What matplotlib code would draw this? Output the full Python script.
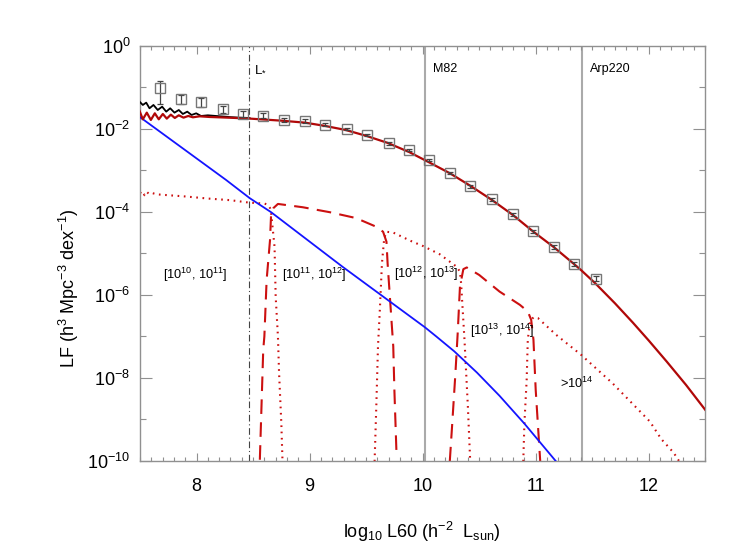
import numpy as np
import matplotlib
matplotlib.use("Agg")
import matplotlib.pyplot as plt
from matplotlib.ticker import FixedLocator, FixedFormatter, NullFormatter

plt.rcParams['font.family'] = ['Liberation Sans', 'DejaVu Sans']
plt.rcParams['mathtext.fontset'] = 'custom'
plt.rcParams['mathtext.rm'] = 'Liberation Sans'
plt.rcParams['mathtext.it'] = 'Liberation Sans:italic'
plt.rcParams['mathtext.bf'] = 'Liberation Sans:bold'

# ---------------- data (log10 values) ----------------
obs_x = [7.68, 7.86, 8.04, 8.23, 8.41, 8.59, 8.77, 8.96, 9.14, 9.33, 9.51, 9.70,
         9.88, 10.06, 10.24, 10.42, 10.61, 10.80, 10.98, 11.16, 11.34, 11.53]
obs_y = [-1.01, -1.29, -1.355, -1.52, -1.64, -1.685, -1.795, -1.81, -1.90, -2.01,
         -2.15, -2.35, -2.51, -2.75, -3.06, -3.39, -3.70, -4.06, -4.47, -4.85, -5.25, -5.61]
obs_elo = [0.39, 0.11, 0.11, 0.10, 0.08, 0.06, 0.05, 0.045, 0.035, 0.03, 0.035, 0.03,
           0.03, 0.03, 0.03, 0.03, 0.03, 0.04, 0.04, 0.05, 0.05, 0.06]
obs_ehi = [0.17, 0.10, 0.09, 0.08, 0.07, 0.055, 0.05, 0.045, 0.035, 0.03, 0.035, 0.03,
           0.03, 0.03, 0.03, 0.03, 0.03, 0.04, 0.04, 0.05, 0.05, 0.06]

total_x = [7.496, 7.525, 7.555, 7.584, 7.619, 7.657, 7.696, 7.732, 7.767, 7.805, 7.843,
           7.879, 7.918, 7.956, 7.997, 8.04, 8.10, 8.30, 8.47]
total_y = [-1.348, -1.427, -1.371, -1.507, -1.427, -1.548, -1.468, -1.588, -1.507, -1.612,
           -1.548, -1.644, -1.588, -1.668, -1.628, -1.692, -1.676, -1.72, -1.745]

model_x = [7.496, 7.525, 7.56, 7.596, 7.631, 7.666, 7.702, 7.737, 7.773, 7.808, 7.843,
           7.885, 7.927, 7.968, 8.027, 8.115, 8.30, 8.47, 8.75, 8.96, 9.14, 9.32, 9.50,
           9.69, 9.88, 10.03, 10.24, 10.42, 10.61, 10.80, 10.98, 11.16, 11.34, 11.40,
           11.53, 11.70, 11.86, 12.00, 12.16, 12.33, 12.50]
model_y = [-1.572, -1.772, -1.612, -1.788, -1.628, -1.772, -1.644, -1.756, -1.66, -1.74,
           -1.676, -1.732, -1.692, -1.724, -1.700, -1.716, -1.735, -1.755, -1.805, -1.853,
           -1.933, -2.03, -2.17, -2.34, -2.56, -2.77, -3.07, -3.37, -3.71, -4.08, -4.48,
           -4.85, -5.26, -5.40, -5.73, -6.20, -6.67, -7.10, -7.61, -8.17, -8.77]

field_x = [7.5, 8.26, 8.47, 8.66, 9.29, 9.65, 9.80, 10.02, 10.12, 10.28, 10.48, 10.68,
           10.90, 11.18]
field_y = [-1.72, -3.23, -3.67, -4.01, -5.32, -6.04, -6.34, -6.78, -7.00, -7.36, -7.87,
           -8.43, -9.10, -10.01]

bin1_x = [7.50, 7.52, 7.54, 7.56, 7.58, 7.61, 7.65, 7.75, 7.90, 8.10, 8.30, 8.47, 8.60,
          8.63, 8.65, 8.66, 8.69, 8.70, 8.72, 8.73, 8.75, 8.76]
bin1_y = [-3.55, -3.50, -3.60, -3.52, -3.57, -3.55, -3.58, -3.60, -3.63, -3.68, -3.72,
          -3.78, -3.80, -3.83, -3.91, -4.03, -4.84, -6.04, -7.00, -7.88, -9.09, -9.97]

bin2_x = [8.56, 8.57, 8.59, 8.60, 8.62, 8.65, 8.66, 8.68, 8.72, 8.94, 9.18, 9.41, 9.59,
          9.65, 9.68, 9.69, 9.72, 9.74, 9.75, 9.77]
bin2_y = [-9.97, -9.09, -7.32, -7.00, -5.64, -4.68, -4.03, -3.91, -3.81, -3.89, -4.01,
          -4.15, -4.36, -4.48, -4.72, -5.24, -6.44, -7.24, -8.29, -9.93]

bin3_x = [9.575, 9.59, 9.605, 9.62, 9.64, 9.66, 9.68, 9.74, 9.91, 10.0, 10.15, 10.30,
          10.33, 10.34, 10.37, 10.40, 10.42]
bin3_y = [-10.01, -8.69, -7.24, -6.44, -5.24, -4.64, -4.48, -4.50, -4.72, -4.82, -5.02,
          -5.32, -5.44, -5.72, -7.08, -8.69, -9.97]

bin4_x = [10.24, 10.26, 10.29, 10.31, 10.33, 10.36, 10.39, 10.50, 10.68, 10.86, 10.93,
          10.96, 10.98, 11.00, 11.04]
bin4_y = [-10.01, -9.17, -7.88, -6.92, -5.80, -5.38, -5.34, -5.52, -5.92, -6.24, -6.40,
          -6.60, -7.08, -8.29, -10.01]

bin5_x = [10.89, 10.90, 10.92, 10.93, 10.95, 10.98, 11.02, 11.18, 11.40, 11.68, 12.01,
          12.11, 12.22, 12.27]
bin5_y = [-10.01, -9.09, -8.05, -7.08, -6.64, -6.54, -6.56, -6.96, -7.44, -8.13, -9.05,
          -9.47, -9.80, -10.01]

bin_labels = [r'[10$^{10}$, 10$^{11}$]', r'[10$^{11}$, 10$^{12}$]', r'[10$^{12}$, 10$^{13}$]',
              r'[10$^{13}$, 10$^{14}$]', r'>10$^{14}$']
bin_label_x = [7.99, 9.04, 10.035, 10.70, 11.36]
bin_label_y = [-5.615, -5.615, -5.59, -6.96, -8.24]

ref_names = ['M82', 'Arp220']
ref_x = [10.02, 11.41]
lstar_x = 8.46

xticks = [8, 9, 10, 11, 12]
yticks_major = [0, -2, -4, -6, -8, -10]
yticks_minor = [-1, -3, -5, -7, -9]

# ---------------- figure ----------------
fig = plt.figure(figsize=(7.47, 5.54), dpi=100)
ax = fig.add_axes([140/747, 1-461/554, 565.3/747, 415.3/554])
ax.set_yscale('log')
ax.set_xlim(7.5, 12.5)
ax.set_ylim(1e-10, 1.0)

red_dark = '#b00808'
red_light = '#cc1010'
p = lambda a: 10**np.asarray(a)

ax.axvline(ref_x[0], color='#aaaaaa', lw=1.5, zorder=1)
ax.axvline(ref_x[1], color='#aaaaaa', lw=1.5, zorder=1)
ax.axvline(lstar_x, color='#444444', lw=0.8, dashes=(6, 2.5, 1, 2.5), zorder=1)

ax.plot(bin1_x, p(bin1_y), color=red_light, lw=1.5, ls=(0, (0.8, 2.2)), zorder=2)
ax.plot(bin2_x, p(bin2_y), color=red_light, lw=1.5, ls=(0, (7, 4)), zorder=2)
ax.plot(bin3_x, p(bin3_y), color=red_light, lw=1.5, ls=(0, (0.8, 2.2)), zorder=2)
ax.plot(bin4_x, p(bin4_y), color=red_light, lw=1.5, ls=(0, (7, 4)), zorder=2)
ax.plot(bin5_x, p(bin5_y), color=red_light, lw=1.5, ls=(0, (0.8, 2.2)), zorder=2)

ax.plot(field_x, p(field_y), color='#1414ff', lw=1.3, zorder=3)
ax.plot(total_x, p(total_y), color='black', lw=1.3, zorder=3)
ax.plot(model_x, p(model_y), color=red_dark, lw=1.6, zorder=4)

oy = p(obs_y)
lo = oy - p(np.asarray(obs_y) - np.asarray(obs_elo))
hi = p(np.asarray(obs_y) + np.asarray(obs_ehi)) - oy
ax.errorbar(obs_x, oy, yerr=[lo, hi], fmt='none', ecolor='#444444', elinewidth=0.9,
            capsize=2.5, capthick=0.9, zorder=5)
ax.plot(obs_x, oy, ls='none', marker='s', ms=7.5, mfc='none', mec='#777777', mew=1.0, zorder=5)

for t, x, y in zip(bin_labels, bin_label_x, bin_label_y):
    ax.text(x, 10**y, t, ha='center', va='baseline', fontsize=9.2, color='black')

ax.text(8.51, 10**-0.63, r'L$_{*}$', ha='left', va='baseline', fontsize=9.5)
ax.text(10.09, 10**-0.63, ref_names[0], ha='left', va='baseline', fontsize=9)
ax.text(11.48, 10**-0.63, ref_names[1], ha='left', va='baseline', fontsize=9)

# ticks
ax.xaxis.set_major_locator(FixedLocator(xticks))
ax.xaxis.set_minor_locator(FixedLocator(np.arange(7.5, 12.51, 0.1)))
ax.xaxis.set_major_formatter(FixedFormatter([str(v) for v in xticks]))
ax.yaxis.set_major_locator(FixedLocator([10.0**v for v in yticks_major]))
ax.yaxis.set_major_formatter(FixedFormatter([r'$10^{%d}$' % v for v in yticks_major]))
ax.yaxis.set_minor_locator(FixedLocator([10.0**v for v in yticks_minor]))
ax.yaxis.set_minor_formatter(NullFormatter())

gray = '#909090'
for s in ax.spines.values():
    s.set_color(gray)
    s.set_linewidth(1.0)
ax.tick_params(which='both', direction='in', top=True, right=True, color=gray, width=0.8,
               labelsize=13, labelcolor='black')
ax.tick_params(axis='x', which='major', length=6, pad=12)
ax.tick_params(axis='x', which='minor', length=3.2)
ax.tick_params(axis='y', which='major', length=8.6, pad=7)
ax.tick_params(axis='y', which='minor', length=4.3)

fig.text(422/747, 1-538/554, r'log$_{10}$ L60 (h$^{-2}$  L$_{\rm sun}$)', ha='center',
         va='baseline', fontsize=13)
fig.text(75/747, 1-288/554, r'LF (h$^3$ Mpc$^{-3}$ dex$^{-1}$)', rotation=90,
         rotation_mode='anchor', ha='center', va='baseline', fontsize=13)

fig.savefig('out.png', dpi=100)
